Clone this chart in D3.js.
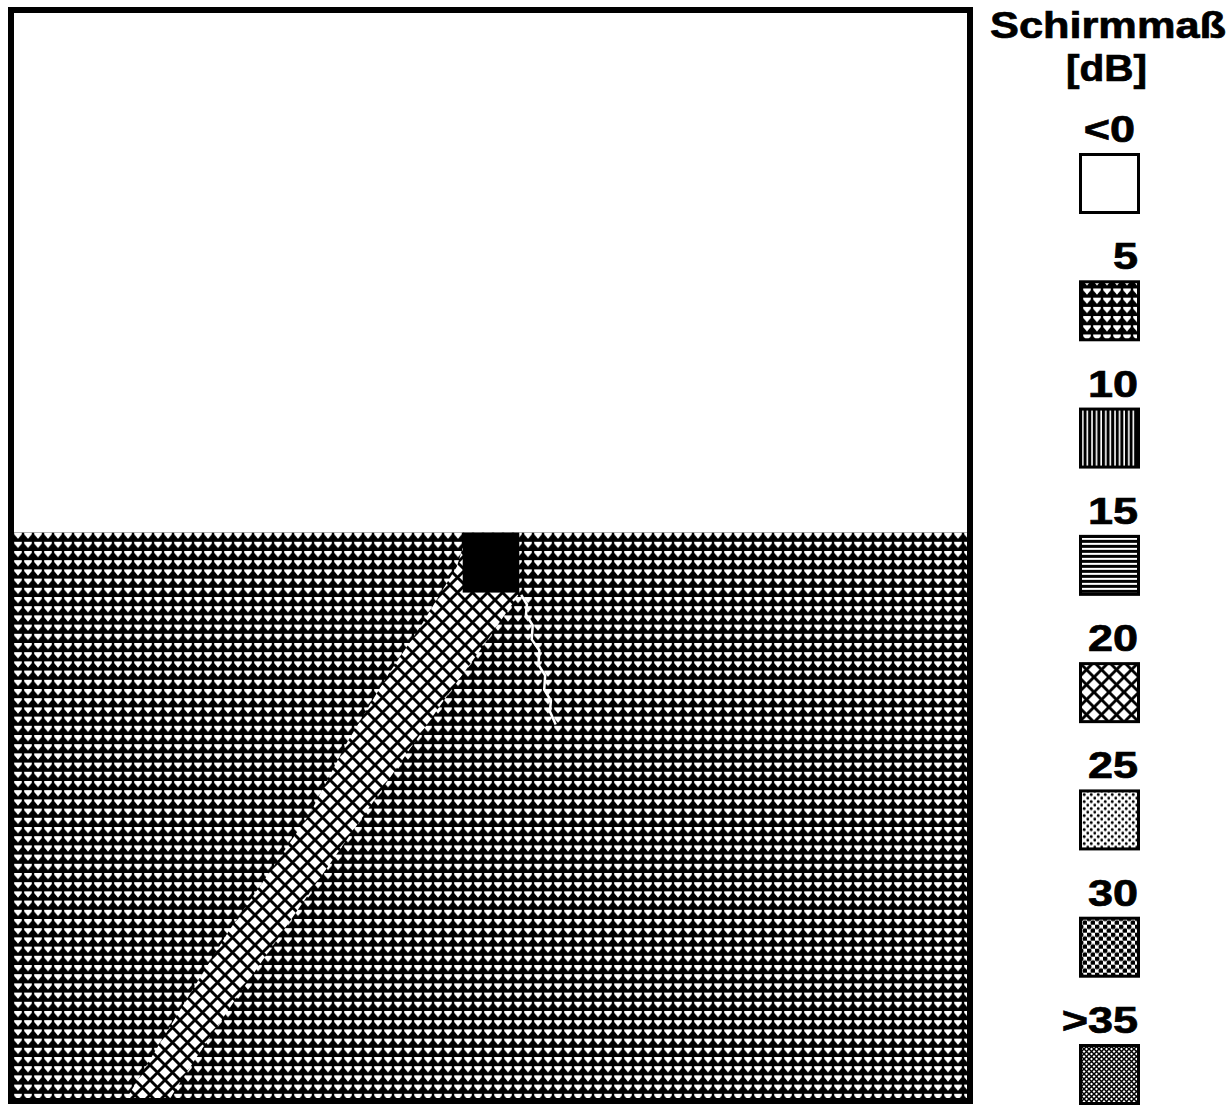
<!DOCTYPE html>
<html>
<head>
<meta charset="utf-8">
<script src="https://cdn.jsdelivr.net/npm/d3@7"></script>
<style>
body{margin:0;background:#fff;}
svg{display:block;}
text{font-family:"Liberation Sans",Arial,sans-serif;font-weight:bold;fill:#000;stroke:#000;stroke-width:0.7;}
</style>
</head>
<body>
<svg></svg>
<script>
// legend levels, Schirmmass in dB
var levels = ["<0","5","10","15","20","25","30",">35"];
var title = ["Schirmmaß","[dB]"];

// regions in plot units: x 0..100 left->right, y 0..100 bottom->top
var zone5 = [[0,0],[100,0],[100,52.1],[0,52.1]];
var beam20 = [
    [47.1,50.7],[46.5,49.0],[44.7,46.4],[42.7,43.5],[39.2,38.9],[35.0,32.8],
    [31.2,26.4],[28.1,22.4],[22.8,15.7],[18.3,9.3],[14.5,3.8],[11.9,0],
    [16.4,0],[19.7,4.5],[23.4,9.3],[30.6,18.4],[37.9,27.6],[45.2,36.8],
    [48.9,41.3],[53.1,46.6]
];
var source = [[47.1,46.6],[53.0,52.1]];
var seam = [[53.2,46.4],[53.8,45.5],[53.7,44.6],[54.4,43.6],[54.3,42.3],[55.1,41.3],
    [55.0,40.0],[55.7,39.0],[55.6,37.7],[56.3,36.7],[56.2,35.7],[56.8,34.5]];

var screen = {width:1232,height:1108};
var plot = {left:11,right:970,top:10,bottom:1101};

var svg = d3.select("svg")
    .attr("width",screen.width)
    .attr("height",screen.height);

var xScale = d3.scaleLinear()
    .domain([0,100])
    .range([plot.left,plot.right]);

var yScale = d3.scaleLinear()
    .domain([0,100])
    .range([plot.bottom,plot.top]);

var makePatterns = function(defs)
{
    var p5 = defs.append("pattern").attr("id","p5")
        .attr("patternUnits","userSpaceOnUse")
        .attr("x",13).attr("y",yScale(52.1))
        .attr("width",10).attr("height",9.2);
    p5.append("rect").attr("width",10).attr("height",9.2).attr("fill","#000");
    p5.append("path").attr("d","M1.2,0H8.8V1.8L5,6.3L1.2,1.8Z").attr("fill","#fff");

    var p10 = defs.append("pattern").attr("id","p10")
        .attr("patternUnits","userSpaceOnUse")
        .attr("width",4.6).attr("height",10);
    p10.append("rect").attr("width",4.6).attr("height",10).attr("fill","#000");
    p10.append("rect").attr("x",3).attr("width",1.6).attr("height",10).attr("fill","#fff");

    var p15 = defs.append("pattern").attr("id","p15")
        .attr("patternUnits","userSpaceOnUse")
        .attr("width",10).attr("height",5);
    p15.append("rect").attr("width",10).attr("height",5).attr("fill","#000");
    p15.append("rect").attr("y",3).attr("width",10).attr("height",2).attr("fill","#fff");

    var p20 = defs.append("pattern").attr("id","p20")
        .attr("patternUnits","userSpaceOnUse")
        .attr("width",15).attr("height",15);
    p20.append("rect").attr("width",15).attr("height",15).attr("fill","#fff");
    p20.append("path").attr("d","M-2,-2L17,17M17,-2L-2,17")
        .attr("stroke","#000").attr("stroke-width",2.9);

    var p25 = defs.append("pattern").attr("id","p25")
        .attr("patternUnits","userSpaceOnUse")
        .attr("width",7).attr("height",7);
    p25.append("rect").attr("width",7).attr("height",7).attr("fill","#fff");
    p25.selectAll("circle").data([[1.75,1.75],[5.25,5.25]]).enter().append("circle")
        .attr("cx",function(d){return d[0];}).attr("cy",function(d){return d[1];})
        .attr("r",1.4).attr("fill","#000");

    var p30 = defs.append("pattern").attr("id","p30")
        .attr("patternUnits","userSpaceOnUse")
        .attr("width",8).attr("height",8);
    p30.append("rect").attr("width",8).attr("height",8).attr("fill","#fff");
    p30.selectAll("circle").data([[2,2],[6,6]]).enter().append("circle")
        .attr("cx",function(d){return d[0];}).attr("cy",function(d){return d[1];})
        .attr("r",2.5).attr("fill","#000");

    var p35 = defs.append("pattern").attr("id","p35")
        .attr("patternUnits","userSpaceOnUse")
        .attr("width",5).attr("height",5);
    p35.append("rect").attr("width",5).attr("height",5).attr("fill","#fff");
    p35.append("path").attr("d","M-1,-1L6,6M6,-1L-1,6")
        .attr("stroke","#000").attr("stroke-width",1.5);
}

var fillScale = d3.scaleOrdinal()
    .domain(levels)
    .range(["#fff","url(#p5)","url(#p10)","url(#p15)","url(#p20)","url(#p25)","url(#p30)","url(#p35)"]);

var line = d3.line()
    .x(function(d){return xScale(d[0]);})
    .y(function(d){return yScale(d[1]);});

var drawMap = function(target)
{
    target.append("rect")
        .attr("x",plot.left).attr("y",plot.top)
        .attr("width",plot.right-plot.left).attr("height",plot.bottom-plot.top)
        .attr("fill",fillScale("<0"));

    target.append("path")
        .attr("d",line(zone5)+"Z")
        .attr("fill",fillScale("5"));

    target.append("path")
        .attr("d",line(beam20)+"Z")
        .attr("fill",fillScale("20"));

    target.append("path")
        .attr("d",line(seam))
        .attr("fill","none")
        .attr("stroke","#fff")
        .attr("stroke-width",2.5);

    target.append("rect")
        .attr("x",xScale(source[0][0]))
        .attr("y",yScale(source[1][1]))
        .attr("width",xScale(source[1][0])-xScale(source[0][0]))
        .attr("height",yScale(source[0][1])-yScale(source[1][1]))
        .attr("fill","#000");

    target.append("rect")
        .attr("x",plot.left).attr("y",plot.top)
        .attr("width",plot.right-plot.left).attr("height",plot.bottom-plot.top)
        .attr("fill","none")
        .attr("stroke","#000")
        .attr("stroke-width",6);
}

var drawLegend = function(target)
{
    var boxScale = d3.scalePoint()
        .domain(levels)
        .range([153,1044]);

    target.append("text")
        .attr("x",990).attr("y",38)
        .attr("font-size",36)
        .attr("textLength",236)
        .attr("lengthAdjust","spacingAndGlyphs")
        .text(title[0]);

    target.append("text")
        .attr("x",1066).attr("y",81)
        .attr("font-size",36)
        .attr("textLength",81)
        .attr("lengthAdjust","spacingAndGlyphs")
        .text(title[1]);

    var items = target.selectAll("g.item")
        .data(levels)
        .enter()
        .append("g")
        .attr("class","item")
        .attr("transform",function(d){return "translate(1079,"+boxScale(d)+")";});

    items.append("text")
        .attr("x",function(d){return d=="<0" ? 56 : 59;})
        .attr("y",-11)
        .attr("text-anchor","end")
        .attr("font-size",36)
        .text(function(d){return d;})
        .each(function()
        {
            var w = this.getComputedTextLength();
            d3.select(this)
                .attr("textLength",w*1.25)
                .attr("lengthAdjust","spacingAndGlyphs");
        });

    items.append("rect")
        .attr("x",1.5).attr("y",1.5)
        .attr("width",58).attr("height",58)
        .attr("fill",function(d){return fillScale(d);})
        .attr("stroke","#000")
        .attr("stroke-width",3);
}

makePatterns(svg.append("defs"));
drawMap(svg.append("g").attr("id","map"));
drawLegend(svg.append("g").attr("id","legend"));
</script>
</body>
</html>
